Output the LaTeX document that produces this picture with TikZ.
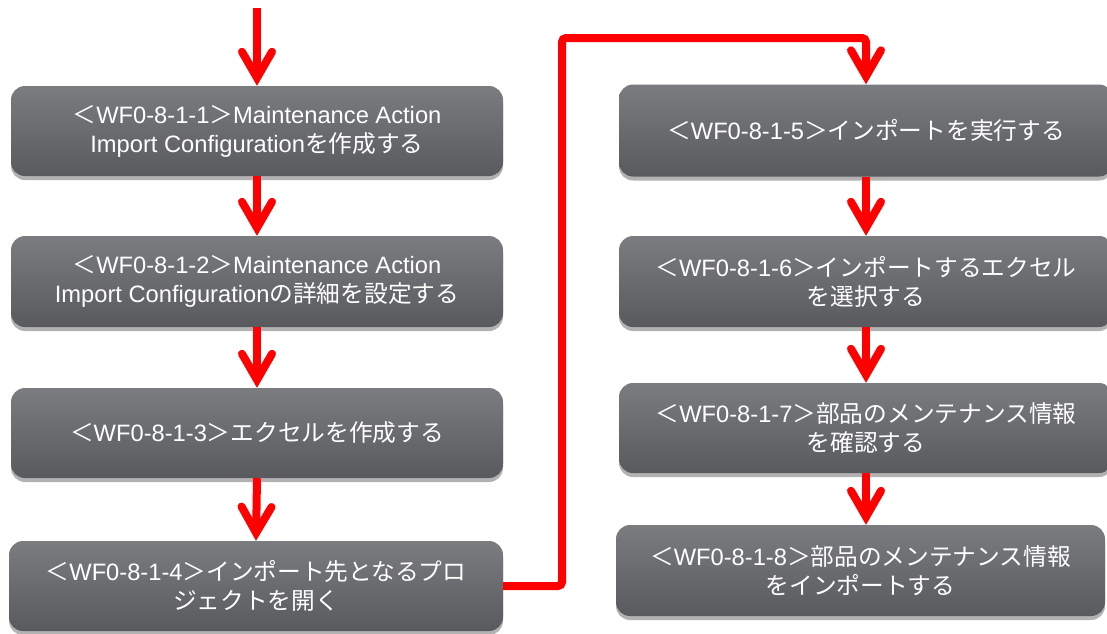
\documentclass[tikz,border=0pt]{standalone}
\usepackage{fontspec}
\setmainfont{Liberation Sans}
\newfontfamily\jpf{Noto Sans CJK JP}
\newcommand\jp[1]{{\jpf #1}}
\usetikzlibrary{arrows.meta,shadows}
\definecolor{boxtop}{HTML}{7B7C80}
\definecolor{boxbot}{HTML}{595A5E}
\definecolor{flowred}{HTML}{FF0000}
\begin{document}
\begin{tikzpicture}[x=1pt,y=-1pt,
  stepbox/.style={rounded corners=14pt, top color=boxtop, bottom color=boxbot,
    draw=none, text=white, align=center, inner sep=0pt,
    font=\fontsize{23.7pt}{29pt}\selectfont,
    drop shadow={shadow xshift=0pt, shadow yshift=-4pt, opacity=0.3, fill=black}},
  flow/.style={draw=flowred, line width=8pt,
    -{Straight Barb[length=26pt,width=30pt,line cap=round,line join=miter]}},
]
\useasboundingbox (0,0) rectangle (1107,633);
% left column
\node[stepbox, minimum width=492pt, minimum height=90pt] (b1) at (257,131)
  {\jp{＜}WF0-8-1-1\jp{＞}Maintenance Action\\Import Configuration\jp{を作成する}};
\node[stepbox, minimum width=492pt, minimum height=91pt] (b2) at (257,281.5)
  {\jp{＜}WF0-8-1-2\jp{＞}Maintenance Action\\Import Configuration\jp{の詳細を設定する}};
\node[stepbox, minimum width=492pt, minimum height=90pt] (b3) at (257,433)
  {\jp{＜}WF0-8-1-3\jp{＞エクセルを作成する}};
\node[stepbox, minimum width=494pt, minimum height=90pt] (b4) at (256,586)
  {\jp{＜}WF0-8-1-4\jp{＞インポート先となるプロ}\\\jp{ジェクトを開く}};
% right column
\node[stepbox, minimum width=494pt, minimum height=92pt] (b5) at (866,130.5)
  {\jp{＜}WF0-8-1-5\jp{＞インポートを実行する}};
\node[stepbox, minimum width=494pt, minimum height=91pt] (b6) at (866,281.5)
  {\jp{＜}WF0-8-1-6\jp{＞インポートするエクセル}\\\jp{を選択する}};
\node[stepbox, minimum width=494pt, minimum height=90pt] (b7) at (866,428)
  {\jp{＜}WF0-8-1-7\jp{＞部品のメンテナンス情報}\\\jp{を確認する}};
\node[stepbox, minimum width=489pt, minimum height=91pt] (b8) at (860.5,570.5)
  {\jp{＜}WF0-8-1-8\jp{＞部品のメンテナンス情報}\\\jp{をインポートする}};
% connectors
\coordinate (start) at (257,8);
\coordinate (k1) at (562,38);
\draw[flow] (start) -- (b1.north);
\draw[flow] (b1.south) -- (b2.north);
\draw[flow] (b2.south) -- (b3.north);
\draw[flow] (b3.south) -- (b4.north);
\draw[flow, rounded corners=4pt] (b4.east) -| (k1) -| (b5.north);
\draw[flow] (b5.south) -- (b6.north);
\draw[flow] (b6.south) -- (b7.north);
\draw[flow] (b7.south) -- (b7.south |- b8.north);
\end{tikzpicture}
\end{document}
